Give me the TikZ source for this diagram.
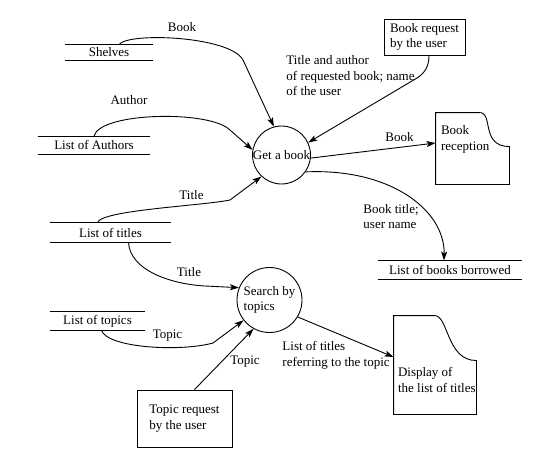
\documentclass[tikz,border=0pt]{standalone}
\usepackage{fontspec}
\setmainfont{Liberation Serif}
\usepackage{tikz}
\usetikzlibrary{arrows.meta}

\tikzset{
  store/.style={inner sep=0pt, append after command={
      (\tikzlastnode.north west) edge (\tikzlastnode.north east)
      (\tikzlastnode.south west) edge (\tikzlastnode.south east)}},
  proc/.style={circle, draw, inner sep=0pt},
  agent/.style={rectangle, draw, align=left, inner sep=0pt},
  doc/.style={rectangle, inner sep=0pt},
  lbl/.style={inner sep=0pt, align=left},
}

\begin{document}
\begin{tikzpicture}[x=1pt,y=-1pt,line width=0.9pt,>={Stealth[length=9pt,width=6pt,inset=2pt]},
  font=\fontsize{13pt}{15.5pt}\selectfont]
\useasboundingbox (0,0) rectangle (546,466);

\node[store, minimum width=88pt, minimum height=15pt] (shelves) at (109,52.5) {Shelves};
\node[store, minimum width=112pt, minimum height=17pt] (authors) at (94,145) {List of Authors};
\node[store, minimum width=121pt, minimum height=19pt] (titles) at (110.5,232.5) {List of titles};
\node[store, minimum width=95pt, minimum height=18pt] (topics) at (97.5,321) {List of topics};
\node[store, minimum width=144pt, minimum height=18pt] (borrowed) at (450,270) {List of books borrowed};

\node[proc, minimum size=58pt, label=center:{Get a book}] (getbook) at (281.5,155) {};
\node[proc, minimum size=65pt, label={[align=left]center:Search by\\topics}] (search) at (269.5,300) {};

\node[agent, minimum width=81pt, minimum height=36pt] (bookreq) at (424.5,37) {Book request\\by the user};
\node[agent, minimum width=95pt, minimum height=57pt] (topicreq) at (184.5,418.5) {Topic request\\by the user};

\node[doc, minimum width=73pt, minimum height=71pt] (recep) at (472.5,148.5) {};
\draw (recep.south west) -- (recep.north west) -- ([xshift=44pt]recep.north west)
  .. controls +(14,0) and +(-29,0) .. ([yshift=-34pt]recep.north east) -- (recep.south east) -- cycle;
\node[lbl, anchor=west] (receptext) at ([xshift=5pt,yshift=9pt]recep.west) {Book\\reception};

\node[doc, minimum width=82pt, minimum height=98pt] (display) at (435,365) {};
\draw (display.south west) -- (display.north west) -- ([xshift=41pt]display.north west)
  .. controls +(14,0) and +(-30,0) .. ([yshift=-45pt]display.north east) -- (display.south east) -- cycle;
\node[lbl, anchor=west] (displaytext) at ([xshift=4pt,yshift=-15pt]display.west) {Display of\\the list of titles};

\draw[->] ([xshift=10pt]shelves.north) .. controls (128,32) and (230,36) .. (243,60) -- (getbook.105);
\draw[->] (authors.north) .. controls (100,112) and (210,110) .. (230,130) -- (getbook.170);
\draw[->] ([xshift=-13pt]titles.north) .. controls (102,210) and (200,206) .. (230,200) -- (getbook.227);
\draw[->] ([xshift=18pt]titles.south) .. controls (130,270) and (170,284) .. (205,286) -- (search.158);
\draw[->] ([xshift=4pt]topics.south) .. controls (108,348) and (180,352) .. (213,343) -- (search.218);
\draw[->] ([xshift=10pt]topicreq.north) -- (search.241);
\draw[->] (search.329.5) -- ([yshift=8pt]display.west);
\draw[->] ([xshift=4.5pt]bookreq.south) .. controls (429,66) and (425,73) .. (417,78) -- (getbook.25);
\draw[->] (getbook.354) -- ([yshift=5.5pt]recep.west);
\draw[->] (getbook.325) .. controls (390,168) and (445,210) .. ([xshift=-6pt]borrowed.north);

\node[lbl] (lshelves) at (182,27) {Book};
\node[lbl] (lauthors) at (129,100) {Author};
\node[lbl] (ltitlesup) at (191.5,195) {Title};
\node[lbl] (ltitlesdown) at (189,272) {Title};
\node[lbl] (ltopics) at (167.5,336) {Topic};
\node[lbl] (ltopicreq) at (245,362) {Topic};
\node[lbl] (lrecep) at (399.5,137) {Book};
\node[lbl, anchor=west] (lbookreq) at (286,76) {Title and author\\of requested book; name\\of the user};
\node[lbl, anchor=west] (lborrowed) at (363,216.5) {Book title;\\user name};
\node[lbl, anchor=west] (ldisplay) at (282,355.5) {List of titles\\referring to the topic};
\end{tikzpicture}
\end{document}
